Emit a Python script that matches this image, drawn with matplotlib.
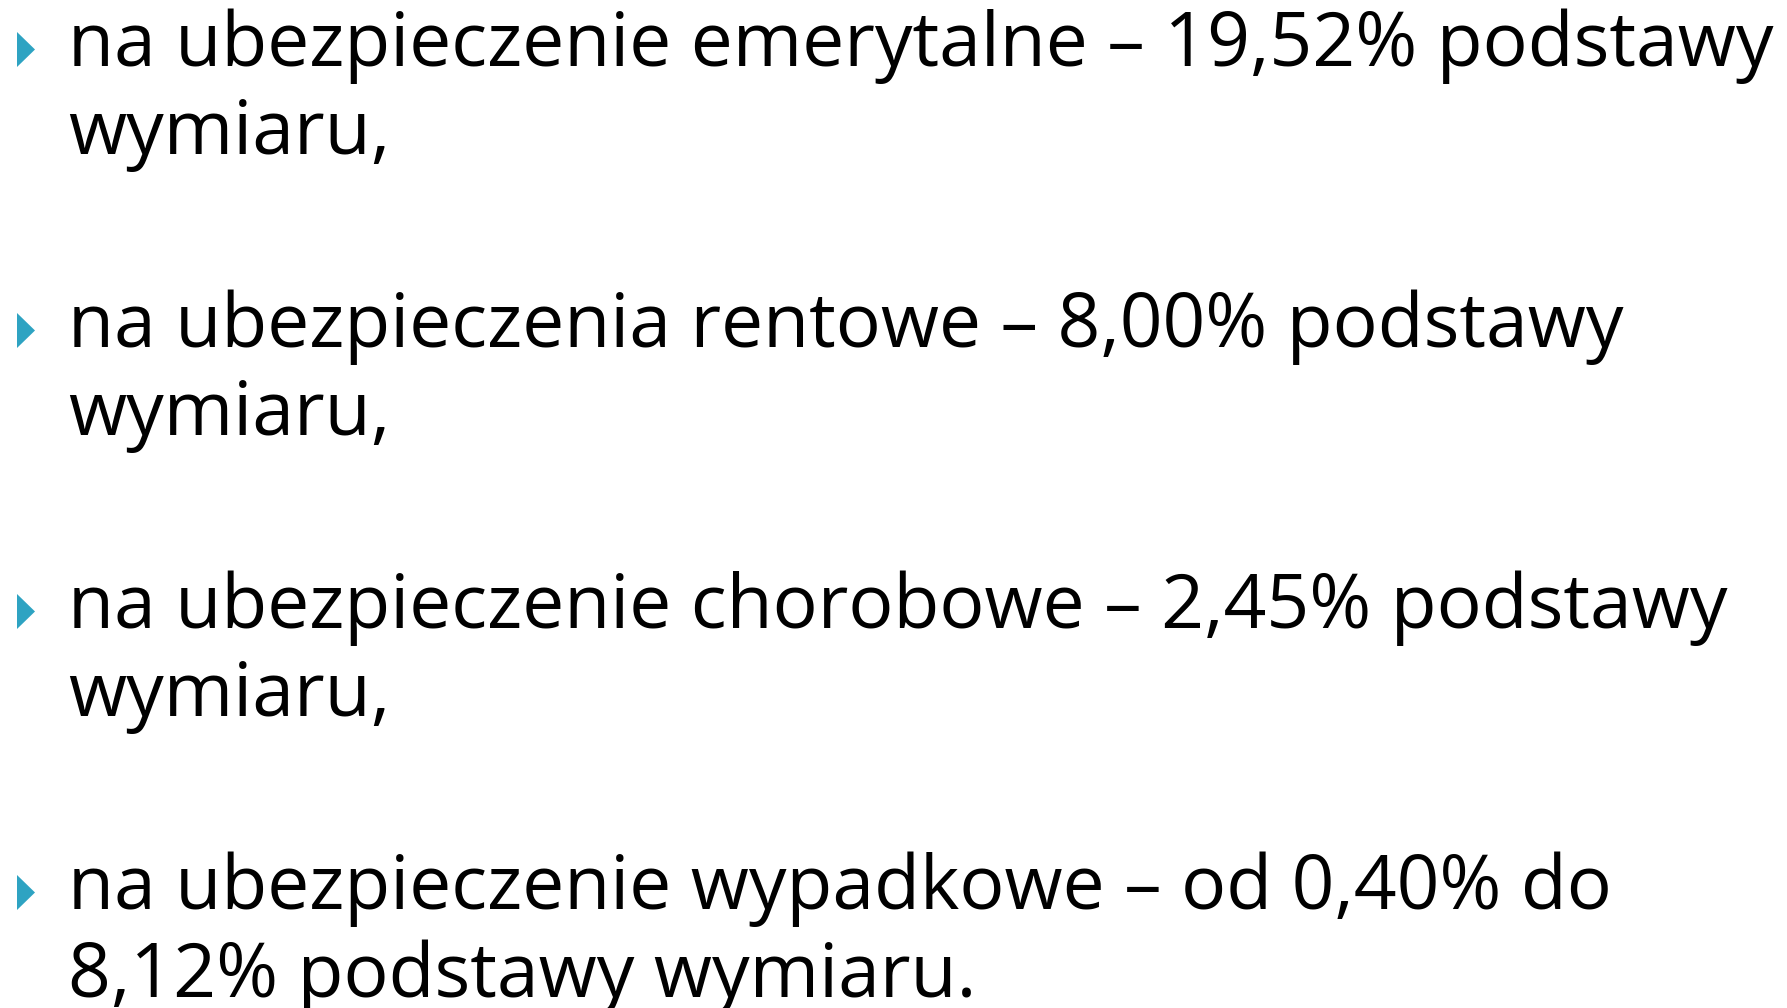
import matplotlib
matplotlib.use("Agg")
import matplotlib.pyplot as plt
from matplotlib.patches import Polygon

plt.rcParams["font.family"] = ["Open Sans", "DejaVu Sans"]

W, H = 1787, 1008
TEAL = "#2EA3C2"

first_lines = [
    "na ubezpieczenie emerytalne – 19,52% podstawy",
    "na ubezpieczenia rentowe – 8,00% podstawy",
    "na ubezpieczenie chorobowe – 2,45% podstawy",
    "na ubezpieczenie wypadkowe – od 0,40% do",
]
second_lines = [
    "wymiaru,",
    "wymiaru,",
    "wymiaru,",
    "8,12% podstawy wymiaru.",
]

fig = plt.figure(figsize=(W / 100, H / 100), dpi=100)
ax = fig.add_axes([0, 0, 1, 1])
ax.set_xlim(0, W)
ax.set_ylim(H, 0)
ax.axis("off")

top_baseline = 66
item_step = 281
line_step = 88
text_x = 68
fs = 54

for i, (l1, l2) in enumerate(zip(first_lines, second_lines)):
    y = top_baseline + i * item_step
    tri = Polygon([(17, y - 34), (17, y + 1), (35, y - 16.5)], closed=True,
                  color=TEAL, lw=0)
    ax.add_patch(tri)
    ax.text(text_x, y, l1, fontsize=fs, va="baseline", ha="left", color="black")
    ax.text(text_x, y + line_step, l2, fontsize=fs, va="baseline", ha="left", color="black")

fig.savefig("out.png", dpi=100, facecolor="white")
